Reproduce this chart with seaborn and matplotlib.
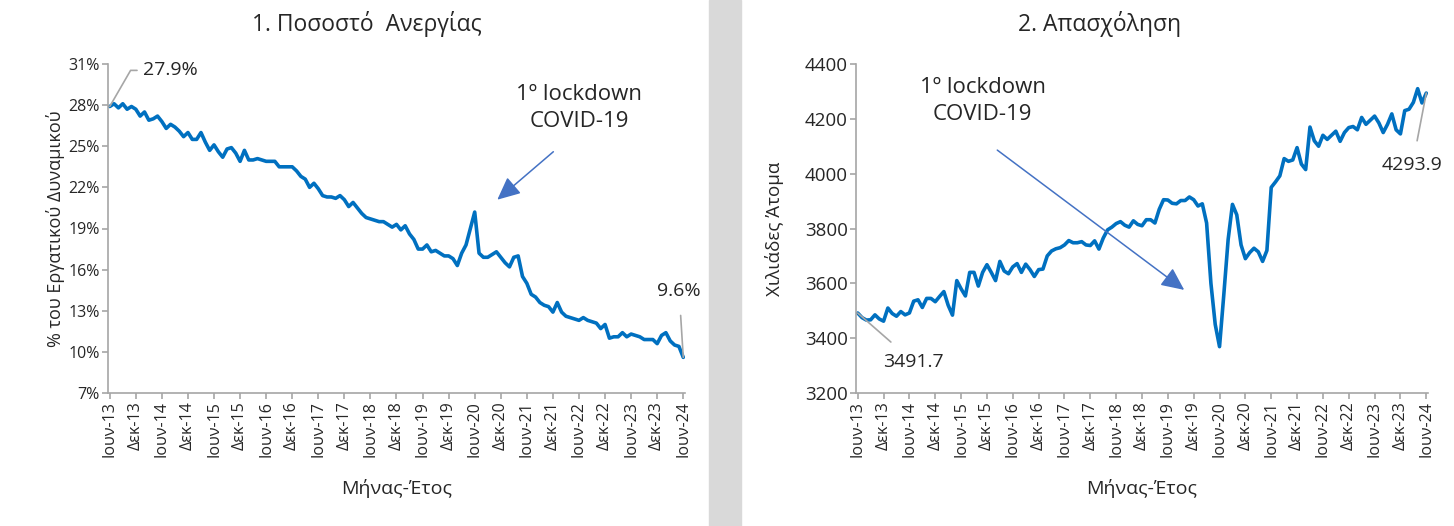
import matplotlib
matplotlib.use("Agg")
import matplotlib.pyplot as plt
from matplotlib.patches import Rectangle
import numpy as np
import pandas as pd
import seaborn as sns

# monthly data, Jun 2013 - Jun 2024
unemployment = [
    27.9, 28.1, 27.8, 28.1, 27.7, 27.9, 27.7, 27.2, 27.5, 26.9, 27.0, 27.2,
    26.8, 26.3, 26.6, 26.4, 26.1, 25.7, 26.0, 25.5, 25.5, 26.0, 25.3, 24.7,
    25.1, 24.6, 24.2, 24.8, 24.9, 24.5, 23.9, 24.7, 24.0, 24.0, 24.1, 24.0,
    23.9, 23.9, 23.9, 23.5, 23.5, 23.5, 23.5, 23.2, 22.8, 22.6, 22.0, 22.3,
    21.9, 21.4, 21.3, 21.3, 21.2, 21.4, 21.1, 20.6, 20.9, 20.5, 20.1, 19.8,
    19.7, 19.6, 19.5, 19.5, 19.3, 19.1, 19.3, 18.9, 19.2, 18.6, 18.2, 17.5,
    17.5, 17.8, 17.3, 17.4, 17.2, 17.0, 17.0, 16.8, 16.3, 17.2, 17.8, 19.0,
    20.2, 17.2, 16.9, 16.9, 17.1, 17.3, 16.9, 16.5, 16.2, 16.9, 17.0, 15.5,
    15.0, 14.2, 14.0, 13.6, 13.4, 13.3, 12.9, 13.6, 12.9, 12.6, 12.5, 12.4,
    12.3, 12.5, 12.3, 12.2, 12.1, 11.7, 12.0, 11.0, 11.1, 11.1, 11.4, 11.1,
    11.3, 11.2, 11.1, 10.9, 10.9, 10.9, 10.6, 11.2, 11.4, 10.8, 10.5, 10.4,
    9.6,
]

employment = [
    3491.7, 3475, 3466, 3467, 3485, 3470, 3462, 3510, 3490, 3480, 3497, 3485,
    3492, 3535, 3540, 3512, 3545, 3545, 3533, 3552, 3570, 3520, 3484, 3610,
    3580, 3554, 3640, 3640, 3590, 3640, 3668, 3640, 3610, 3680, 3645, 3635,
    3660, 3672, 3640, 3670, 3650, 3625, 3650, 3652, 3700, 3718, 3726, 3730,
    3740, 3756, 3748, 3748, 3752, 3740, 3738, 3755, 3725, 3765, 3795, 3805,
    3818, 3825, 3812, 3805, 3828, 3815, 3810, 3832, 3832, 3820, 3870, 3905,
    3904, 3892, 3890, 3902, 3902, 3915, 3905, 3882, 3890, 3820, 3600, 3450,
    3369, 3560, 3760, 3888, 3850, 3740, 3690, 3712, 3728, 3715, 3680, 3720,
    3950, 3970, 3992, 4055, 4045, 4050, 4095, 4035, 4015, 4170, 4120, 4100,
    4140, 4125, 4140, 4155, 4118, 4150, 4168, 4172, 4160, 4205, 4180, 4195,
    4210, 4185, 4150, 4180, 4218, 4160, 4145, 4230, 4235, 4260, 4310, 4258,
    4293.9,
]

tick_labels = [
    'Ιουν-13', 'Δεκ-13', 'Ιουν-14', 'Δεκ-14', 'Ιουν-15', 'Δεκ-15',
    'Ιουν-16', 'Δεκ-16', 'Ιουν-17', 'Δεκ-17', 'Ιουν-18', 'Δεκ-18',
    'Ιουν-19', 'Δεκ-19', 'Ιουν-20', 'Δεκ-20', 'Ιουν-21', 'Δεκ-21',
    'Ιουν-22', 'Δεκ-22', 'Ιουν-23', 'Δεκ-23', 'Ιουν-24',
]

df = pd.DataFrame({'month': np.arange(len(unemployment)),
                   'unemployment': unemployment,
                   'employment': employment})

sns.set_style('white')
plt.rcParams['font.family'] = ['Open Sans', 'DejaVu Sans']

LINE = '#0070c0'
ARROW = '#4472c4'
TXT = '#262626'
SPINE = '#a6a6a6'

fig = plt.figure(figsize=(14.54, 5.26), dpi=100)
fig.patches.append(Rectangle((709 / 1454, 0), 32 / 1454, 1, transform=fig.transFigure,
                             color='#d9d9d9', zorder=0))

ax1 = fig.add_axes([108 / 1454, 1 - 393 / 526, 577 / 1454, 329 / 526])
ax2 = fig.add_axes([856 / 1454, 1 - 393 / 526, 572 / 1454, 329 / 526])


def style_axes(ax):
    for s in ['top', 'right']:
        ax.spines[s].set_visible(False)
    for s in ['left', 'bottom']:
        ax.spines[s].set_color(SPINE)
        ax.spines[s].set_linewidth(1.2)
    ax.set_xlim(-0.4, 132.4)
    ax.set_xticks(np.arange(0, 133, 6))
    ax.set_xticklabels(tick_labels, rotation=90, fontsize=11.5, color=TXT)
    ax.tick_params(axis='both', which='both', direction='out', length=4,
                   color=SPINE, width=1.2, left=True, bottom=True, pad=2)
    ax.tick_params(axis='y', labelsize=11.5, labelcolor=TXT)
    ax.set_xlabel('Μήνας-Έτος', fontsize=14, color=TXT, labelpad=16)


def lockdown_note(ax, text_xy, start, tip):
    ax.text(*text_xy, '1º lockdown\nCOVID-19', fontsize=16, color=TXT,
            ha='center', va='center', linespacing=1.35)
    ax.annotate('', xy=tip, xytext=start,
                arrowprops=dict(arrowstyle='-|>,head_length=1.4,head_width=0.65',
                                color=ARROW, lw=1.1, shrinkA=0, shrinkB=0))


# 1. Unemployment rate
sns.lineplot(data=df, x='month', y='unemployment', ax=ax1, color=LINE, linewidth=2.6)
style_axes(ax1)
ax1.set_ylim(7, 31)
ax1.set_yticks(np.arange(7, 32, 3))
ax1.set_yticklabels([f'{v}%' for v in range(7, 32, 3)])
ax1.set_ylabel('% του Εργατικού Δυναμικού', fontsize=13, color=TXT)
ax1.yaxis.set_label_coords(-0.074, 0.5)
fig.text(367 / 1454, 1 - 24 / 526, '1. Ποσοστό  Ανεργίας', fontsize=16.5, color=TXT,
         ha='center', va='center')

ax1.annotate(f'{unemployment[0]}%', xy=(0, unemployment[0]), xytext=(24, 26),
             textcoords='offset points', fontsize=14, color=TXT, va='center',
             arrowprops=dict(arrowstyle='-', color=SPINE, lw=1.2, shrinkA=2, shrinkB=0,
                             relpos=(0, 0.5),
                             connectionstyle='angle,angleA=180,angleB=60,rad=0'))
ax1.annotate(f'{unemployment[-1]}%', xy=(132, unemployment[-1]), xytext=(-3, 48),
             textcoords='offset points', fontsize=14, color=TXT, ha='center', va='center',
             arrowprops=dict(arrowstyle='-', color=SPINE, lw=1.2, shrinkA=9, shrinkB=0))
lockdown_note(ax1, (108, 27.8), (102.1, 24.6), (89.2, 21.1))

# 2. Employment
sns.lineplot(data=df, x='month', y='employment', ax=ax2, color=LINE, linewidth=2.6)
style_axes(ax2)
ax2.set_ylim(3200, 4400)
ax2.set_yticks(np.arange(3200, 4401, 200))
ax2.tick_params(axis='y', labelsize=13.5)
ax2.set_ylabel('Χιλιάδες Άτομα', fontsize=13.5, color=TXT)
ax2.yaxis.set_label_coords(-0.126, 0.5)
fig.text(1100 / 1454, 1 - 24 / 526, '2. Απασχόληση', fontsize=16.5, color=TXT,
         ha='center', va='center')

ax2.annotate(f'{employment[0]}', xy=(0, employment[0]), xytext=(40, -35),
             textcoords='offset points', fontsize=14, color=TXT, ha='center', va='center',
             arrowprops=dict(arrowstyle='-', color=SPINE, lw=1.2, shrinkA=8, shrinkB=0))
ax2.annotate(f'{employment[-1]}', xy=(132, employment[-1]), xytext=(-10, -52),
             textcoords='offset points', fontsize=14, color=TXT, ha='center', va='center',
             arrowprops=dict(arrowstyle='-', color=SPINE, lw=1.2, shrinkA=9, shrinkB=0))
lockdown_note(ax2, (29, 4265), (32.4, 4086), (75.8, 3576))

plt.savefig('out.png', dpi=100)
